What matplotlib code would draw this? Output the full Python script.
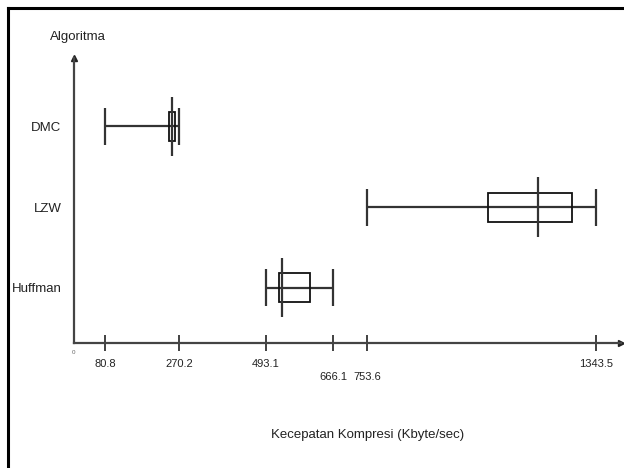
import matplotlib
matplotlib.use("Agg")
import matplotlib.pyplot as plt
from matplotlib.lines import Line2D
from matplotlib.patches import Rectangle
import matplotlib.transforms as mtransforms

plt.rcParams['font.family'] = ['Liberation Sans', 'DejaVu Sans']

# ---- data ----
categories = ['Huffman', 'LZW', 'DMC']
whisker_lo = [493.1, 753.6, 80.8]
whisker_hi = [666.1, 1343.5, 270.2]
box_q1 = [528, 1065, 244]
box_q3 = [607, 1282, 261]
medians = [535, 1194, 253]
tick_values = [80.8, 270.2, 493.1, 666.1, 753.6, 1343.5]
tick_labels = ['80.8', '270.2', '493.1', '666.1', '753.6', '1343.5']
lowered_ticks = ['666.1', '753.6']

W, H = 624, 468
fig = plt.figure(figsize=(W / 100, H / 100), dpi=100)
fig.patch.set_facecolor('white')

left_px, right_px, bottom_px, top_px = 74, 621, 343, 58
ax = fig.add_axes([left_px / W, 1 - bottom_px / H,
                   (right_px - left_px) / W, (bottom_px - top_px) / H])
ax.set_xlim(0, (right_px - left_px) / 0.3887)
ax.set_ylim(0.3125, 3.85)

line_col = '#333333'
positions = [1, 2, 3]
box_h = 0.18
cap_h = 0.23
med_h = 0.37
for pos, lo, hi, q1, q3, med in zip(positions, whisker_lo, whisker_hi, box_q1, box_q3, medians):
    ax.hlines(pos, lo, hi, color=line_col, lw=1.6, zorder=2)
    ax.vlines([lo, hi], pos - cap_h, pos + cap_h, color=line_col, lw=1.6, zorder=2)
    ax.add_patch(Rectangle((q1, pos - box_h), q3 - q1, 2 * box_h,
                           facecolor='none', edgecolor='#111111', lw=1.3, zorder=3))
    ax.vlines(med, pos - med_h, pos + med_h, color=line_col, lw=1.6, zorder=4)

# spines
for s in ['top', 'right']:
    ax.spines[s].set_visible(False)
for s in ['left', 'bottom']:
    ax.spines[s].set_color('#444444')
    ax.spines[s].set_linewidth(1.6)
ax.plot(1, 0, '>', color='#222222', markersize=5, transform=ax.transAxes, clip_on=False)
ax.plot(0, 1, '^', color='#222222', markersize=5, transform=ax.transAxes, clip_on=False)

# ticks
ax.set_yticks(positions)
ax.set_yticklabels(categories, fontsize=9.5, color='#222222')
ax.tick_params(axis='y', length=0, pad=9)
ax.set_xticks(tick_values)
ax.set_xticklabels([])
ax.tick_params(axis='x', direction='inout', length=12, width=1.3, color='#333333')

trans = mtransforms.blended_transform_factory(ax.transData, ax.transAxes)
for v, lab in zip(tick_values, tick_labels):
    dy = -34 / 100 if lab in lowered_ticks else -21 / 100
    off = mtransforms.ScaledTranslation(0, dy, fig.dpi_scale_trans)
    ax.text(v, 0, lab, transform=trans + off, ha='center', va='center',
            fontsize=8, color='#222222')
off0 = mtransforms.ScaledTranslation(0, -10 / 100, fig.dpi_scale_trans)
ax.text(0, 0, '0', transform=trans + off0, ha='center', va='center', fontsize=4.5, color='#666666')

fig.text(368 / W, 1 - 435 / H, 'Kecepatan Kompresi (Kbyte/sec)', ha='center', va='center',
         fontsize=9.5, color='#222222')
fig.text(78 / W, 1 - 37 / H, 'Algoritma', ha='center', va='center',
         fontsize=9.5, color='#222222')

# outer frame (top and left)
fig.add_artist(Line2D([8 / W, 1], [1 - 8 / H, 1 - 8 / H], color='black', lw=2.2,
                      transform=fig.transFigure))
fig.add_artist(Line2D([8 / W, 8 / W], [0, 1 - 8 / H], color='black', lw=2.2,
                      transform=fig.transFigure))

fig.savefig('out.png', dpi=100)
